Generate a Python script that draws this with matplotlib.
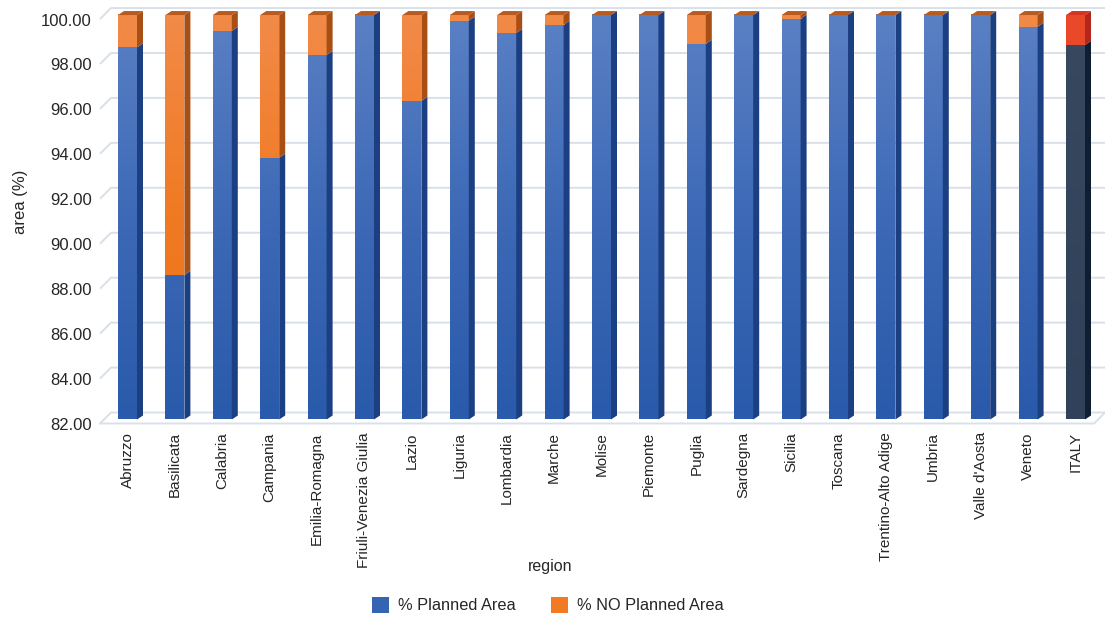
import numpy as np
import matplotlib
matplotlib.use("Agg")
import matplotlib.pyplot as plt
from matplotlib.patches import Polygon, Rectangle
from matplotlib.colors import LinearSegmentedColormap
from matplotlib.transforms import ScaledTranslation

regions = ["Abruzzo", "Basilicata", "Calabria", "Campania", "Emilia-Romagna",
           "Friuli-Venezia Giulia", "Lazio", "Liguria", "Lombardia", "Marche",
           "Molise", "Piemonte", "Puglia", "Sardegna", "Sicilia", "Toscana",
           "Trentino-Alto Adige", "Umbria", "Valle d'Aosta", "Veneto", "ITALY"]
planned = [98.56, 88.43, 99.29, 93.65, 98.22, 100.0, 96.18, 99.75, 99.20, 99.57,
           100.0, 100.0, 98.72, 100.0, 99.84, 100.0, 100.0, 100.0, 100.0, 99.48, 98.67]
no_planned = [1.44, 11.57, 0.71, 6.35, 1.78, 0.0, 3.82, 0.25, 0.80, 0.43,
              0.0, 0.0, 1.28, 0.0, 0.16, 0.0, 0.0, 0.0, 0.0, 0.52, 1.33]
yticks = [82, 84, 86, 88, 90, 92, 94, 96, 98, 100]

plt.rcParams['font.family'] = ['Liberation Sans', 'DejaVu Sans']

W, H = 1105, 619
fig = plt.figure(figsize=(W / 100, H / 100), dpi=100)

# pixel geometry of the plot area
L, R, T, B = 97, 1105, 3, 428
PX_X, X0 = 47.4, 127.5
PX_Y, Y82 = 22.47, 419.5
ax = fig.add_axes([L / W, (H - B) / H, (R - L) / W, (B - T) / H])
xlim = ((L - X0) / PX_X, (R - X0) / PX_X)
ylim = (82 - (B - Y82) / PX_Y, 82 + (Y82 - T) / PX_Y)


def ux(px):
    return px / PX_X


def uy(px):
    return px / PX_Y


# gridlines drawn on a slanted 3d wall
grid_c = "#d9e0e8"
for v in yticks:
    xf, yf = xlim[0] + ux(3), v - uy(4)
    xb, yb = xlim[0] + ux(14), v + uy(7)
    ax.plot([xf, xb, xlim[1]], [yf, yb, yb], color=grid_c, lw=1.4, zorder=1,
            solid_capstyle="butt")
# floor front edge
ax.plot([xlim[0] + ux(3), xlim[1] - ux(11), xlim[1]],
        [82 - uy(4), 82 - uy(4), 82 + uy(7)], color=grid_c, lw=1.4, zorder=1)

blue_cm = LinearSegmentedColormap.from_list("b", ["#2a5aab", "#3d69b6", "#5a80c4"])
orange_cm = LinearSegmentedColormap.from_list("o", ["#ee7418", "#f07a22", "#f28a48"])
dark_cm = LinearSegmentedColormap.from_list("d", ["#2f4259", "#36495f"])
red_cm = LinearSegmentedColormap.from_list("r", ["#e63c1e", "#ea4a2a"])

hw = ux(9.5)
dx, dy = ux(6), uy(4)


def face(x0, x1, y0, y1, cmap, z):
    if y1 - y0 <= 0:
        return
    g = np.linspace((y0 - 82) / 18, (y1 - 82) / 18, 60).reshape(-1, 1)
    ax.imshow(g, extent=[x0, x1, y0, y1], cmap=cmap, vmin=0, vmax=1,
              aspect="auto", origin="lower", zorder=z, interpolation="bilinear")


def side(x1, y0, y1, color, z):
    if y1 - y0 <= 0:
        return
    ax.add_patch(Polygon([(x1, y0), (x1 + dx, y0 + dy), (x1 + dx, y1 + dy), (x1, y1)],
                         closed=True, fc=color, ec="none", zorder=z))


for i, (p, n) in enumerate(zip(planned, no_planned)):
    italy = regions[i] == "ITALY"
    x0, x1 = i - hw, i + hw
    fc_low, fc_high = (dark_cm, red_cm) if italy else (blue_cm, orange_cm)
    sc_low, sc_high = ("#0f1f31", "#b3261b") if italy else ("#1c3f82", "#a84f16")
    top_c = "#d83220" if italy else "#b95a1f"
    z = 3 + i * 0.01
    face(x0, x1, 82, p, fc_low, z)
    side(x1, 82, p, sc_low, z)
    face(x0, x1, p, p + n, fc_high, z)
    side(x1, p, p + n, sc_high, z)
    ax.add_patch(Polygon([(x0, p + n), (x1, p + n), (x1 + dx, p + n + dy), (x0 + dx, p + n + dy)],
                         closed=True, fc=top_c, ec="none", zorder=z))

ax.set_xlim(*xlim)
ax.set_ylim(*ylim)
for s in ax.spines.values():
    s.set_visible(False)

ax.set_yticks(yticks)
ax.set_yticklabels([f"{v:.2f}" for v in yticks], fontsize=12, color="#262626")
ax.tick_params(axis="y", length=0, pad=3.6)
off = ScaledTranslation(0, -4.5 / 100, fig.dpi_scale_trans)
for lab in ax.get_yticklabels():
    lab.set_transform(lab.get_transform() + off)

ax.set_xticks(range(len(regions)))
ax.set_xticklabels(regions, rotation=90, fontsize=11, color="#262626", va="top")
ax.tick_params(axis="x", length=0, pad=3)

fig.text(20 / W, 1 - 202 / H, "area (%)", rotation=90, ha="center", va="center",
         fontsize=12, color="#262626")
fig.text(550 / W, 1 - 566 / H, "region", ha="center", va="center",
         fontsize=11.5, color="#262626")

# legend
for xs, col, txt in [(372, "#3564b2", "% Planned Area"), (551, "#f07b22", "% NO Planned Area")]:
    fig.add_artist(Rectangle((xs / W, 1 - 613 / H), 17 / W, 16 / H,
                             transform=fig.transFigure, fc=col, ec="none"))
    fig.text((xs + 26) / W, 1 - 605 / H, txt, ha="left", va="center",
             fontsize=11.8, color="#262626")

fig.savefig("out.png", dpi=100)
